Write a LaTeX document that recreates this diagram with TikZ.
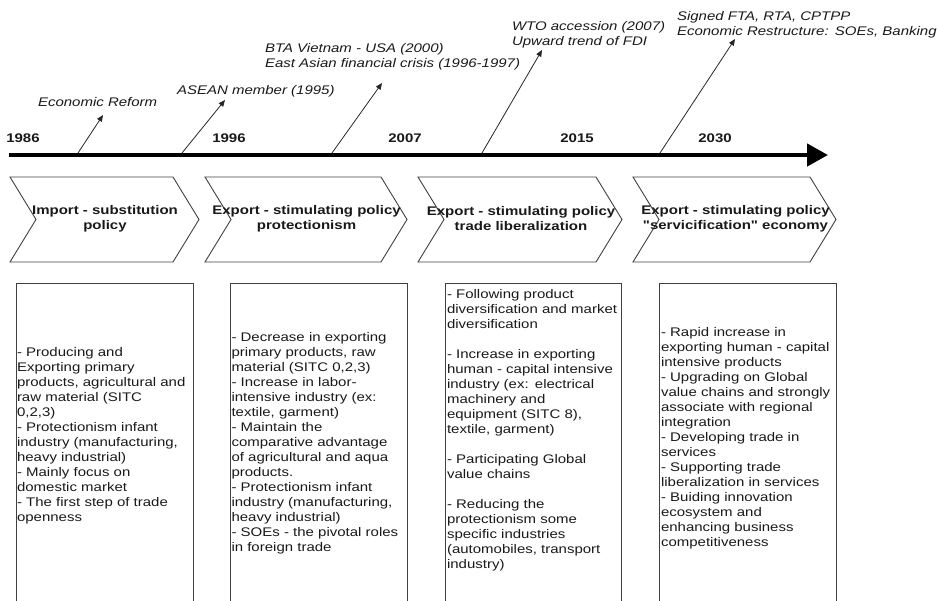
\documentclass[tikz,border=0pt]{standalone}
\usepackage{fontspec}
\setmainfont{Liberation Sans}[FakeStretch=1.2, Ligatures=TeXOff]
\usetikzlibrary{arrows.meta}
\begin{document}
\begin{tikzpicture}[x=1pt,y=-1pt,
  every node/.style={inner sep=0pt, outer sep=0pt, text=black!90},
  yearlbl/.style={font=\fontsize{12.5}{15}\selectfont\bfseries, anchor=base},
  evlbl/.style={font=\fontsize{12.5}{15}\selectfont\itshape, anchor=base west, text width=300pt, align=left},
  head/.style={font=\fontsize{12.5}{15}\selectfont\bfseries, align=center},
  chev/.style={draw=black!75, line width=0.9pt, line join=miter},
  panel/.style={draw=black!75, line width=0.9pt},
  body/.style={font=\fontsize{12.5}{15}\selectfont, anchor=base west, text width=200pt, align=left},
  evarrow/.style={draw=black!85, line width=0.8pt, -{Triangle[length=6.5pt,width=5.5pt]}},
  mainline/.style={draw=black, line width=4.5pt, -{Triangle[length=21pt,width=22pt]}}
]
\useasboundingbox (0,0) rectangle (937,600);

% main timeline
\coordinate (tlstart) at (9,155);
\coordinate (tlend) at (828,155);
\draw[mainline] (tlstart) -- (tlend);

% years
\node[yearlbl] (y1986) at (23,142) {1986};
\node[yearlbl] (y1996) at (229,142) {1996};
\node[yearlbl] (y2007) at (405,142) {2007};
\node[yearlbl] (y2015) at (577,142) {2015};
\node[yearlbl] (y2030) at (715,142) {2030};

% event labels
\node[evlbl] (ev1) at (38,106) {Economic Reform};
\node[evlbl] (ev2) at (177,94.5) {ASEAN member (1995)};
\node[evlbl] (ev3) at (265,52.5) {BTA Vietnam - USA (2000)\\East Asian financial crisis (1996-1997)};
\node[evlbl] (ev4) at (512,30) {WTO accession (2007)\\Upward trend of FDI};
\node[evlbl] (ev5) at (677,20) {Signed FTA, RTA, CPTPP\\Economic Restructure: SOEs, Banking};

% event arrows
\coordinate (a1s) at (78,153);  \coordinate (a1e) at (103,115);
\coordinate (a2s) at (182,153); \coordinate (a2e) at (225,100);
\coordinate (a3s) at (332,153); \coordinate (a3e) at (382,83);
\coordinate (a4s) at (482,153); \coordinate (a4e) at (542,50);
\coordinate (a5s) at (660,153); \coordinate (a5e) at (735,39);
\draw[evarrow] (a1s) -- (a1e);
\draw[evarrow] (a2s) -- (a2e);
\draw[evarrow] (a3s) -- (a3e);
\draw[evarrow] (a4s) -- (a4e);
\draw[evarrow] (a5s) -- (a5e);

% chevrons
\draw[chev] (10,177) -- (173,177) -- (199,219.5) -- (173,262) -- (10,262) -- (36,219.5) -- cycle;
\draw[chev] (205,177) -- (381,177) -- (407,219.5) -- (381,262) -- (205,262) -- (231,219.5) -- cycle;
\draw[chev] (418,177) -- (596,177) -- (622,219.5) -- (596,262) -- (418,262) -- (444,219.5) -- cycle;
\draw[chev] (633,177) -- (810,177) -- (836,219.5) -- (810,262) -- (633,262) -- (659,219.5) -- cycle;

\node[head] (h1) at (105,219) {Import - substitution\\policy};
\node[head] (h2) at (306.5,219) {Export - stimulating policy\\protectionism};
\node[head] (h3) at (521,219) {Export - stimulating policy\\trade liberalization};
\node[head] (h4) at (735.5,219) {Export - stimulating policy\\"servicification" economy};

% panels
\draw[panel] (16,610) -- (16,283) -- (193,283) -- (193,610);
\draw[panel] (230.5,610) -- (230.5,283) -- (407.5,283) -- (407.5,610);
\draw[panel] (445.5,610) -- (445.5,283) -- (621.5,283) -- (621.5,610);
\draw[panel] (659.5,610) -- (659.5,283) -- (836,283) -- (836,610);

\node[body] (b1) at (17,356) {- Producing and\\Exporting primary\\products, agricultural and\\raw material (SITC\\0,2,3)\\- Protectionism infant\\industry (manufacturing,\\heavy industrial)\\- Mainly focus on\\domestic market\\- The first step of trade\\openness};
\node[body] (b2) at (231.5,341) {- Decrease in exporting\\primary products, raw\\material (SITC 0,2,3)\\- Increase in labor-\\intensive industry (ex:\\textile, garment)\\- Maintain the\\comparative advantage\\of agricultural and aqua\\products.\\- Protectionism infant\\industry (manufacturing,\\heavy industrial)\\- SOEs - the pivotal roles\\in foreign trade};
\node[body] (b3) at (447,298) {- Following product\\diversification and market\\diversification\\[15pt]- Increase in exporting\\human - capital intensive\\industry (ex: electrical\\machinery and\\equipment (SITC 8),\\textile, garment)\\[15pt]- Participating Global\\value chains\\[15pt]- Reducing the\\protectionism some\\specific industries\\(automobiles, transport\\industry)};
\node[body] (b4) at (661,336.5) {- Rapid increase in\\exporting human - capital\\intensive products\\- Upgrading on Global\\value chains and strongly\\associate with regional\\integration\\- Developing trade in\\services\\- Supporting trade\\liberalization in services\\- Buiding innovation\\ecosystem and\\enhancing business\\competitiveness};
\end{tikzpicture}
\end{document}
